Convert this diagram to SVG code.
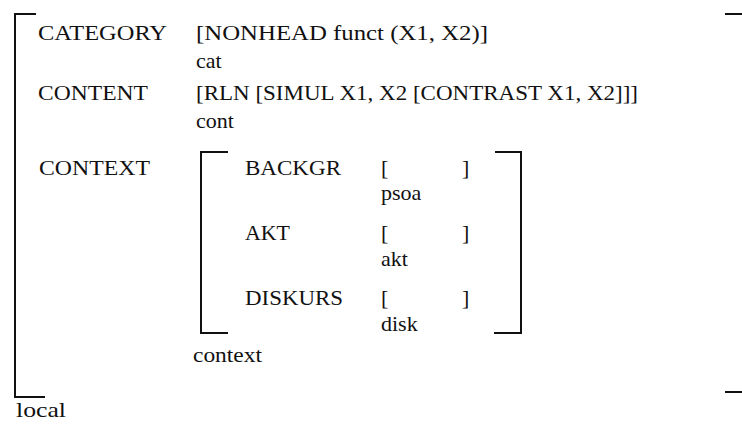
<svg xmlns="http://www.w3.org/2000/svg" width="742" height="426" viewBox="0 0 742 426">
<style>
text{font-family:"Liberation Serif","Times New Roman",serif;font-size:22px;fill:#111}
.s{lengthAdjust:spacingAndGlyphs}
.br{fill:none;stroke:#111;stroke-width:2}
</style>
<rect width="742" height="426" fill="#fff"/>
<g id="outer-bracket">
<path class="br" d="M36,14 H15 V397 H45"/>
<path class="br" d="M725,14 H742 M725,392 H742"/>
<text x="16" y="417" textLength="50" lengthAdjust="spacingAndGlyphs">local</text>
</g>
<g id="category">
<text x="38" y="40" textLength="129" lengthAdjust="spacingAndGlyphs">CATEGORY</text>
<text x="196" y="40" textLength="292" lengthAdjust="spacingAndGlyphs">[NONHEAD funct (X1, X2)]</text>
<text x="196" y="68">cat</text>
</g>
<g id="content">
<text x="38" y="100" textLength="110" lengthAdjust="spacingAndGlyphs">CONTENT</text>
<text x="196" y="100" textLength="442" lengthAdjust="spacingAndGlyphs">[RLN [SIMUL X1, X2 [CONTRAST X1, X2]]]</text>
<text x="196" y="128">cont</text>
</g>
<g id="context">
<text x="39" y="175" textLength="111" lengthAdjust="spacingAndGlyphs">CONTEXT</text>
<path class="br" d="M228,152 H201 V333 H228"/>
<path class="br" d="M495,152 H521 V333 H494"/>
<text x="193" y="362" textLength="69" lengthAdjust="spacingAndGlyphs">context</text>
<g id="backgr">
<text x="245" y="175" textLength="96" lengthAdjust="spacingAndGlyphs">BACKGR</text>
<text x="381" y="175">[</text><text x="462" y="175">]</text>
<text x="381" y="200">psoa</text>
</g>
<g id="akt">
<text x="245" y="240" textLength="45" lengthAdjust="spacingAndGlyphs">AKT</text>
<text x="381" y="240">[</text><text x="462" y="240">]</text>
<text x="381" y="266">akt</text>
</g>
<g id="diskurs">
<text x="245" y="305" textLength="98" lengthAdjust="spacingAndGlyphs">DISKURS</text>
<text x="381" y="305">[</text><text x="462" y="305">]</text>
<text x="381" y="331">disk</text>
</g>
</g>
<g id="connectors"/>
</svg>
